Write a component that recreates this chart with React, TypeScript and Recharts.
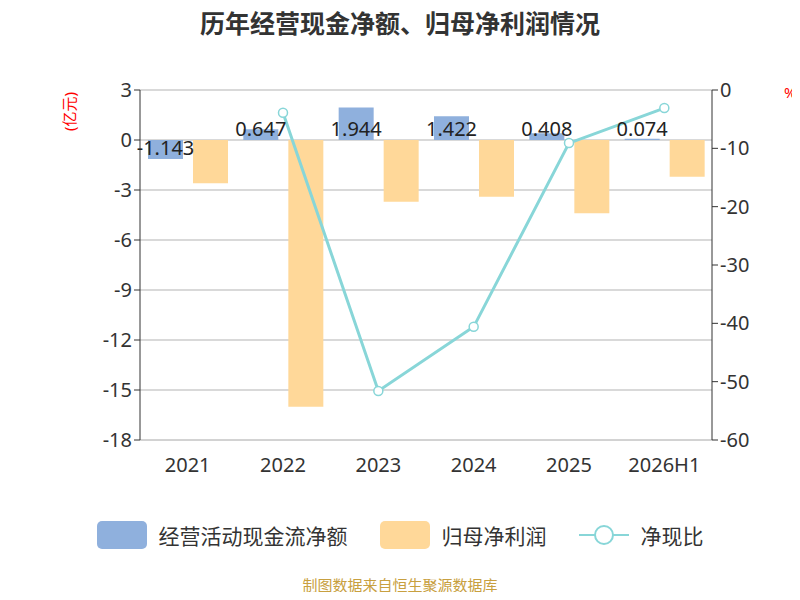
import { Bar, CartesianGrid, ComposedChart, Line, XAxis, YAxis } from 'recharts';

const years = ['2021', '2022', '2023', '2024', '2025', '2026H1'];
const cashFlow = [-1.143, 0.647, 1.944, 1.422, 0.408, 0.074];
const netProfit = [-2.6, -16.0, -3.7, -3.4, -4.4, -2.2];
const ratio = [null, -3.9, -51.6, -40.6, -9.1, -3.1];
const leftTicks = [3, 0, -3, -6, -9, -12, -15, -18];
const rightTicks = [0, -10, -20, -30, -40, -50, -60];

const data = years.map((year, i) => ({
  year,
  cashFlow: cashFlow[i],
  netProfit: netProfit[i],
  ratio: ratio[i],
}));

const font = '"Noto Sans", "Noto Sans CJK SC", sans-serif';

function ValueLabel(props: any) {
  const { x, y, width, height, value } = props;
  const zero = value >= 0 ? y + height : y;
  return (
    <text x={x + width / 2} y={zero - 4} textAnchor="middle" fontSize={20} fill="#222" fontFamily={font}>
      {value.toFixed(3)}
    </text>
  );
}

export default function App() {
  return (
    <div style={{ width: 800, height: 600, position: 'relative', margin: -8, fontFamily: font, background: '#fff', overflow: 'hidden' }}>
      <div style={{ position: 'absolute', top: 4, width: 800, textAlign: 'center', fontSize: 25, fontWeight: 'bold', color: '#333' }}>
        历年经营现金净额、归母净利润情况
      </div>
      <div style={{ position: 'absolute', left: 50, top: 104, color: 'red', fontSize: 15, lineHeight: 1, transform: 'rotate(-90deg)' }}>
        (亿元)
      </div>
      <div style={{ position: 'absolute', left: 784, top: 82, color: 'red', fontSize: 15 }}>%</div>
      <ComposedChart
        width={800}
        height={490}
        data={data}
        margin={{ top: 90, right: 28, bottom: 0, left: 80 }}
        barGap={10}
        style={{ position: 'absolute', top: 0, left: 0 }}
      >
        <CartesianGrid vertical={false} stroke="#ccc" strokeWidth={1.5} yAxisId="left" />
        <XAxis
          dataKey="year"
          tick={{ fill: '#333', fontSize: 20, fontFamily: font }}
          tickLine={false}
          axisLine={{ stroke: '#ccc' }}
          tickMargin={12}
          height={50}
        />
        <YAxis
          yAxisId="left"
          domain={[-18, 3]}
          ticks={leftTicks}
          interval={0}
          width={60}
          tick={{ fill: '#333', fontSize: 20, fontFamily: font }}
          axisLine={{ stroke: '#333' }}
          tickLine={{ stroke: '#333' }}
          tickSize={6}
        />
        <YAxis
          yAxisId="right"
          orientation="right"
          domain={[-60, 0]}
          ticks={rightTicks}
          interval={0}
          width={60}
          tick={{ fill: '#333', fontSize: 20, fontFamily: font }}
          axisLine={{ stroke: '#333' }}
          tickLine={{ stroke: '#333' }}
          tickSize={6}
        />
        <Bar yAxisId="left" dataKey="cashFlow" fill="#8fb0dd" barSize={35} isAnimationActive={false} label={<ValueLabel />} />
        <Bar yAxisId="left" dataKey="netProfit" fill="#ffd899" barSize={35} isAnimationActive={false} />
        <Line
          yAxisId="right"
          dataKey="ratio"
          stroke="#88d6d8"
          strokeWidth={3}
          dot={{ r: 4.5, fill: '#fff', stroke: '#88d6d8', strokeWidth: 1.5 }}
          isAnimationActive={false}
        />
      </ComposedChart>
      <div style={{ position: 'absolute', top: 520, left: 0, width: 800, display: 'flex', justifyContent: 'center', alignItems: 'center', gap: 12, fontSize: 21, color: '#333' }}>
        <span style={{ width: 50, height: 28, background: '#8fb0dd', borderRadius: 5, display: 'inline-block' }} />
        <span style={{ marginRight: 20 }}>经营活动现金流净额</span>
        <span style={{ width: 50, height: 28, background: '#ffd899', borderRadius: 5, display: 'inline-block' }} />
        <span style={{ marginRight: 20 }}>归母净利润</span>
        <svg width={50} height={28}>
          <line x1={0} y1={14} x2={50} y2={14} stroke="#88d6d8" strokeWidth={2} />
          <circle cx={25} cy={14} r={9} fill="#fff" stroke="#88d6d8" strokeWidth={2} />
        </svg>
        <span>净现比</span>
      </div>
      <div style={{ position: 'absolute', top: 578, width: 800, textAlign: 'center', fontSize: 15, lineHeight: 1, color: '#c8a040' }}>
        制图数据来自恒生聚源数据库
      </div>
    </div>
  );
}
